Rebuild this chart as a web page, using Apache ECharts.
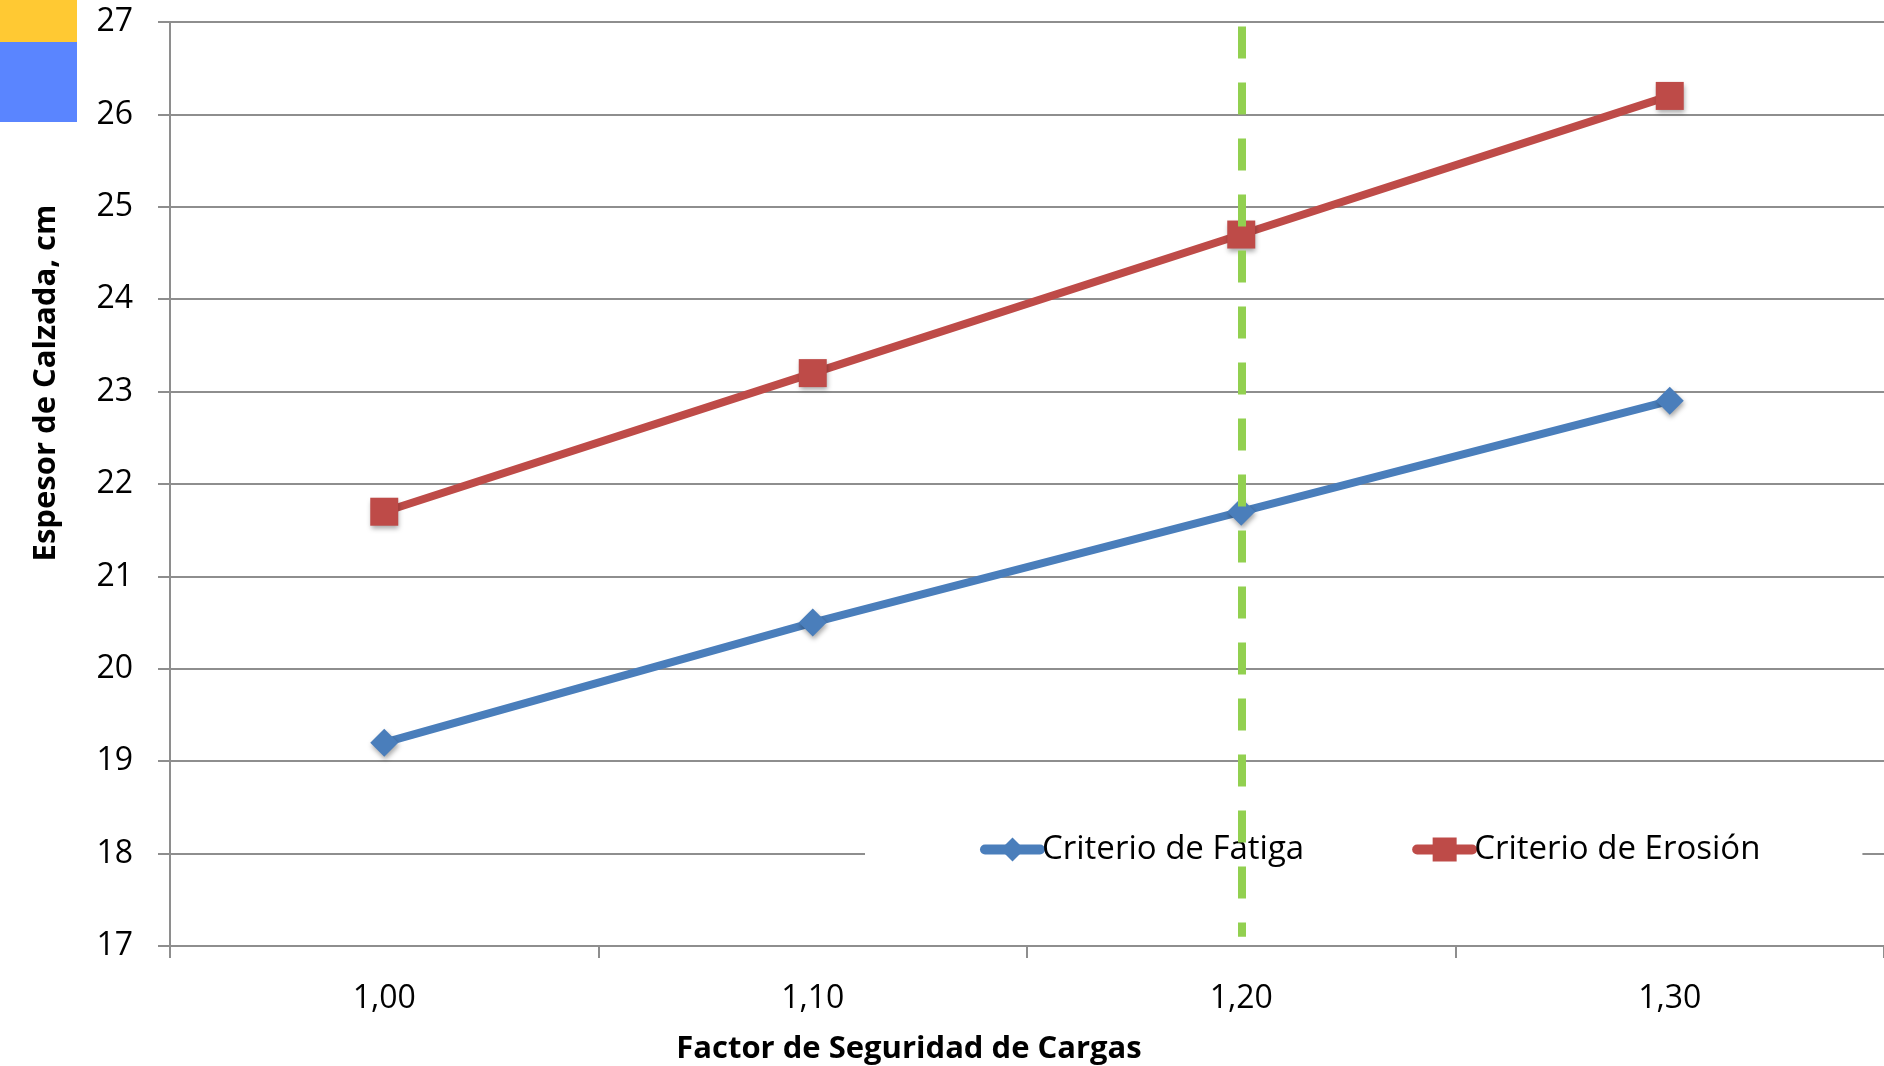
<!DOCTYPE html>
<html>
<head>
<meta charset="utf-8">
<title>Espesor de Calzada vs Factor de Seguridad de Cargas</title>
<script src="https://cdn.jsdelivr.net/npm/echarts@6/dist/echarts.min.js"></script>
<style>
  html, body { margin: 0; padding: 0; background: #ffffff; }
  #chart { width: 1884px; height: 1066px; }
</style>
</head>
<body>
<div id="chart"></div>
<script>
// Load safety factors (categories) and resulting slab thickness, cm
const factores = ['1,00', '1,10', '1,20', '1,30'];
const fatiga = [19.2, 20.5, 21.7, 22.9];
const erosion = [21.7, 23.2, 24.7, 26.2];
const nombreFatiga = 'Criterio de Fatiga';
const nombreErosion = 'Criterio de Erosión';
const yMin = 17;
const yMax = 27;
const yPaso = 1;
// Selected design factor, drawn as a dashed reference line
const factorElegido = '1,20';
const tramoReferencia = [26.95, 17.1];

const FONT = '"Open Sans", "Noto Sans", sans-serif';
const GRID_GRAY = '#8e8e8e';
const AZUL = '#4A7EBB';
const ROJO = '#BE4B48';

const chart = echarts.init(document.getElementById('chart'), null, { renderer: 'canvas' });

const sombra = { shadowBlur: 5, shadowOffsetX: 1, shadowOffsetY: 3, shadowColor: 'rgba(0,0,0,0.35)' };

chart.setOption({
  backgroundColor: '#ffffff',
  animation: false,
  textStyle: { fontFamily: FONT, color: '#000' },
  grid: { left: 170, top: 22, width: 1716, height: 924, containLabel: false },
  xAxis: {
    type: 'category',
    data: factores,
    boundaryGap: true,
    axisLine: { show: true, lineStyle: { color: GRID_GRAY, width: 2 } },
    axisTick: { show: true, inside: false, length: 12, lineStyle: { color: GRID_GRAY, width: 2 } },
    axisLabel: { color: '#000', fontFamily: FONT, fontSize: 32, margin: 37 },
    splitLine: { show: false }
  },
  yAxis: {
    type: 'value',
    min: yMin,
    max: yMax,
    interval: yPaso,
    axisLine: { show: true, lineStyle: { color: GRID_GRAY, width: 2 } },
    axisTick: { show: true, inside: false, length: 12, lineStyle: { color: GRID_GRAY, width: 2 } },
    axisLabel: { color: '#000', fontFamily: FONT, fontSize: 32, margin: 37 },
    splitLine: { show: true, lineStyle: { color: GRID_GRAY, width: 2 } }
  },
  legend: {
    left: 865,
    top: 795,
    orient: 'horizontal',
    backgroundColor: '#ffffff',
    padding: [38, 102, 38, 115],
    itemGap: 108,
    itemWidth: 55,
    itemHeight: 30,
    lineStyle: { width: 10, cap: 'round' },
    textStyle: { fontFamily: FONT, fontSize: 33, color: '#000', padding: [0, 0, 0, -3] },
    data: [
      { name: nombreFatiga, itemStyle: { shadowBlur: 0, shadowOffsetX: 0, shadowOffsetY: 0 } },
      { name: nombreErosion, itemStyle: { shadowBlur: 0, shadowOffsetX: 0, shadowOffsetY: 0 } }
    ]
  },
  graphic: [
    { type: 'rect', left: 0, top: 0, shape: { width: 77, height: 42 }, style: { fill: '#FFC933' }, silent: true },
    { type: 'rect', left: 0, top: 42, shape: { width: 77, height: 80 }, style: { fill: '#5A85FF' }, silent: true },
    {
      type: 'text', x: 46, y: 383, rotation: Math.PI / 2,
      style: { text: 'Espesor de Calzada, cm', font: 'bold 31px ' + FONT, fill: '#000', align: 'center', verticalAlign: 'middle' }
    },
    {
      type: 'text', x: 909, y: 1049,
      style: { text: 'Factor de Seguridad de Cargas', font: 'bold 31px ' + FONT, fill: '#000', align: 'center', verticalAlign: 'middle' }
    }
  ],
  series: [
    {
      name: nombreFatiga,
      type: 'line',
      data: fatiga,
      symbol: 'diamond',
      symbolSize: 28,
      lineStyle: { color: AZUL, width: 8 },
      itemStyle: Object.assign({ color: AZUL }, sombra),
      z: 3
    },
    {
      name: nombreErosion,
      type: 'line',
      data: erosion,
      symbol: 'rect',
      symbolSize: 28,
      lineStyle: { color: ROJO, width: 8 },
      itemStyle: Object.assign({ color: ROJO }, sombra),
      markLine: {
        silent: true,
        symbol: ['none', 'none'],
        label: { show: false },
        lineStyle: { color: '#92D050', width: 8, type: [32, 24], opacity: 1 },
        data: [[
          { coord: [factorElegido, tramoReferencia[0]] },
          { coord: [factorElegido, tramoReferencia[1]] }
        ]]
      },
      z: 3
    }
  ]
});
</script>
</body>
</html>
